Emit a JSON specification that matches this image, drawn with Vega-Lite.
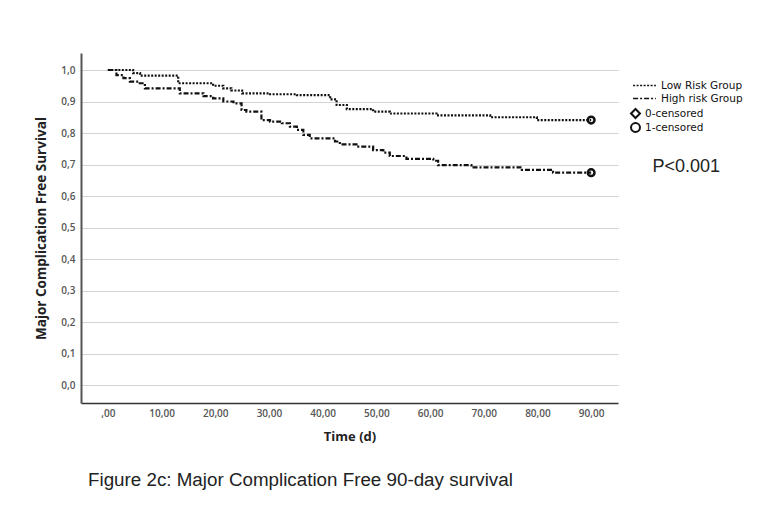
{
  "$schema": "https://vega.github.io/schema/vega-lite/v6.json",
  "width": 537,
  "height": 350,
  "autosize": {"type": "none"},
  "padding": {"left": 81, "top": 53, "right": 145, "bottom": 111},
  "background": "white",
  "config": {"view": {"stroke": null}, "font": "Open Sans"},
  "title": {
    "text": "Figure 2c: Major Complication Free 90-day survival",
    "orient": "bottom",
    "anchor": "start",
    "frame": "group",
    "font": "Liberation Sans",
    "fontSize": 18.8,
    "fontWeight": "normal",
    "color": "#222",
    "offset": 28,
    "dx": 7
  },
  "datasets": {
    "km": [
      {"group": "Low Risk Group", "time": 0, "survival": 1.0},
      {"group": "Low Risk Group", "time": 4.7, "survival": 0.99},
      {"group": "Low Risk Group", "time": 6, "survival": 0.982},
      {"group": "Low Risk Group", "time": 13.1, "survival": 0.958},
      {"group": "Low Risk Group", "time": 19.6, "survival": 0.95},
      {"group": "Low Risk Group", "time": 21.5, "survival": 0.942},
      {"group": "Low Risk Group", "time": 23, "survival": 0.935},
      {"group": "Low Risk Group", "time": 25, "survival": 0.926},
      {"group": "Low Risk Group", "time": 30.2, "survival": 0.923},
      {"group": "Low Risk Group", "time": 35.2, "survival": 0.92},
      {"group": "Low Risk Group", "time": 41.4, "survival": 0.907},
      {"group": "Low Risk Group", "time": 42.6, "survival": 0.889},
      {"group": "Low Risk Group", "time": 44.5, "survival": 0.876},
      {"group": "Low Risk Group", "time": 49.4, "survival": 0.868},
      {"group": "Low Risk Group", "time": 52.5, "survival": 0.862},
      {"group": "Low Risk Group", "time": 61.2, "survival": 0.856},
      {"group": "Low Risk Group", "time": 71.2, "survival": 0.85},
      {"group": "Low Risk Group", "time": 79.9, "survival": 0.841},
      {"group": "Low Risk Group", "time": 90, "survival": 0.841},
      {"group": "High risk Group", "time": 0, "survival": 1.0},
      {"group": "High risk Group", "time": 1.6, "survival": 0.984},
      {"group": "High risk Group", "time": 2.9, "survival": 0.974},
      {"group": "High risk Group", "time": 4.1, "survival": 0.963},
      {"group": "High risk Group", "time": 5.7, "survival": 0.958},
      {"group": "High risk Group", "time": 6.9, "survival": 0.942},
      {"group": "High risk Group", "time": 13.4, "survival": 0.926},
      {"group": "High risk Group", "time": 17.8, "survival": 0.917},
      {"group": "High risk Group", "time": 19.6, "survival": 0.91},
      {"group": "High risk Group", "time": 21.5, "survival": 0.9},
      {"group": "High risk Group", "time": 23.4, "survival": 0.894},
      {"group": "High risk Group", "time": 24.9, "survival": 0.873},
      {"group": "High risk Group", "time": 25.8, "survival": 0.868},
      {"group": "High risk Group", "time": 28.6, "survival": 0.841},
      {"group": "High risk Group", "time": 30.2, "survival": 0.836},
      {"group": "High risk Group", "time": 32.4, "survival": 0.831},
      {"group": "High risk Group", "time": 33.9, "survival": 0.82},
      {"group": "High risk Group", "time": 35.2, "survival": 0.81},
      {"group": "High risk Group", "time": 36.4, "survival": 0.794},
      {"group": "High risk Group", "time": 37.6, "survival": 0.783},
      {"group": "High risk Group", "time": 42.3, "survival": 0.773},
      {"group": "High risk Group", "time": 43.2, "survival": 0.764},
      {"group": "High risk Group", "time": 46.3, "survival": 0.757},
      {"group": "High risk Group", "time": 49.4, "survival": 0.746},
      {"group": "High risk Group", "time": 51.3, "survival": 0.738},
      {"group": "High risk Group", "time": 52.5, "survival": 0.727},
      {"group": "High risk Group", "time": 55.6, "survival": 0.718},
      {"group": "High risk Group", "time": 60.6, "survival": 0.712},
      {"group": "High risk Group", "time": 61.5, "survival": 0.698},
      {"group": "High risk Group", "time": 67.7, "survival": 0.691},
      {"group": "High risk Group", "time": 77.1, "survival": 0.683},
      {"group": "High risk Group", "time": 82.9, "survival": 0.674},
      {"group": "High risk Group", "time": 90, "survival": 0.674}
    ],
    "censor": [
      {"group": "Low Risk Group", "censor": "1-censored", "time": 90, "survival": 0.841},
      {"group": "High risk Group", "censor": "1-censored", "time": 90, "survival": 0.674}
    ],
    "note": [{"label": "P<0.001"}]
  },
  "layer": [
    {
      "data": {"name": "km"},
      "mark": {"type": "line", "interpolate": "step-after", "color": "#111", "strokeWidth": 2.2},
      "encoding": {
        "x": {
          "field": "time",
          "type": "quantitative",
          "scale": {"domain": [-5, 95], "nice": false, "zero": false},
          "axis": {
            "values": [0, 10, 20, 30, 40, 50, 60, 70, 80, 90],
            "tickCount": 20,
            "labelExpr": "datum.value == 0 ? ',00' : replace(format(datum.value, '.2f'), '.', ',')",
            "labelOverlap": false,
            "grid": false,
            "ticks": false,
            "domainColor": "#333",
            "domainWidth": 1.5,
            "labelFont": "Open Sans",
            "labelFontSize": 10,
            "labelFontWeight": 600,
            "labelColor": "#555",
            "labelPadding": 5,
            "title": "Time (d)",
            "titleFont": "Open Sans",
            "titleFontSize": 13,
            "titleFontWeight": "bold",
            "titleColor": "#222",
            "titlePadding": 12
          }
        },
        "y": {
          "field": "survival",
          "type": "quantitative",
          "scale": {"domain": [-0.057, 1.054], "nice": false, "zero": false},
          "axis": {
            "values": [0, 0.1, 0.2, 0.3, 0.4, 0.5, 0.6, 0.7, 0.8, 0.9, 1.0],
            "tickCount": 20,
            "labelExpr": "replace(format(datum.value, '.1f'), '.', ',')",
            "labelOverlap": false,
            "grid": true,
            "gridColor": "#d3d3d3",
            "gridWidth": 1,
            "ticks": false,
            "domainColor": "#555",
            "domainWidth": 2,
            "labelFont": "Open Sans",
            "labelFontSize": 10,
            "labelFontWeight": 600,
            "labelColor": "#555",
            "labelPadding": 6,
            "title": "Major Complication Free Survival",
            "titleFont": "Open Sans",
            "titleFontSize": 13.5,
            "titleFontWeight": "bold",
            "titleColor": "#222",
            "titlePadding": 12
          }
        },
        "strokeDash": {
          "field": "group",
          "type": "nominal",
          "scale": {"domain": ["Low Risk Group", "High risk Group"], "range": [[2, 1.5], [5, 2, 2, 2]]},
          "legend": {
            "orient": "none",
            "legendX": 556,
            "legendY": 25,
            "title": null,
            "symbolType": "M-1.7,0H1.7",
            "symbolSize": 180,
            "symbolStrokeWidth": 1.5,
            "symbolStrokeColor": "#111",
            "labelFont": "DejaVu Sans",
            "labelFontSize": 10.5,
            "labelColor": "#111",
            "labelOffset": 9,
            "rowPadding": 0,
            "padding": 0
          }
        }
      }
    },
    {
      "data": {"name": "censor"},
      "mark": {"type": "point", "filled": false, "strokeWidth": 2.5, "color": "#111", "size": 45, "opacity": 1},
      "encoding": {
        "x": {"field": "time", "type": "quantitative"},
        "y": {"field": "survival", "type": "quantitative"},
        "shape": {
          "field": "censor",
          "type": "nominal",
          "scale": {"domain": ["0-censored", "1-censored"], "range": ["diamond", "circle"]},
          "legend": {
            "orient": "none",
            "legendX": 549,
            "legendY": 55,
            "title": null,
            "symbolSize": 80,
            "symbolStrokeWidth": 2,
            "symbolStrokeColor": "#111",
            "symbolFillColor": "transparent",
            "labelFont": "DejaVu Sans",
            "labelFontSize": 10.5,
            "labelColor": "#111",
            "labelOffset": 4,
            "rowPadding": -3,
            "padding": 0
          }
        }
      }
    },
    {
      "data": {"name": "note"},
      "mark": {"type": "text", "font": "Liberation Sans", "fontSize": 18, "color": "#222", "align": "center", "baseline": "middle"},
      "encoding": {
        "text": {"field": "label", "type": "nominal"},
        "x": {"datum": 107.7},
        "y": {"datum": 0.692}
      }
    }
  ]
}
